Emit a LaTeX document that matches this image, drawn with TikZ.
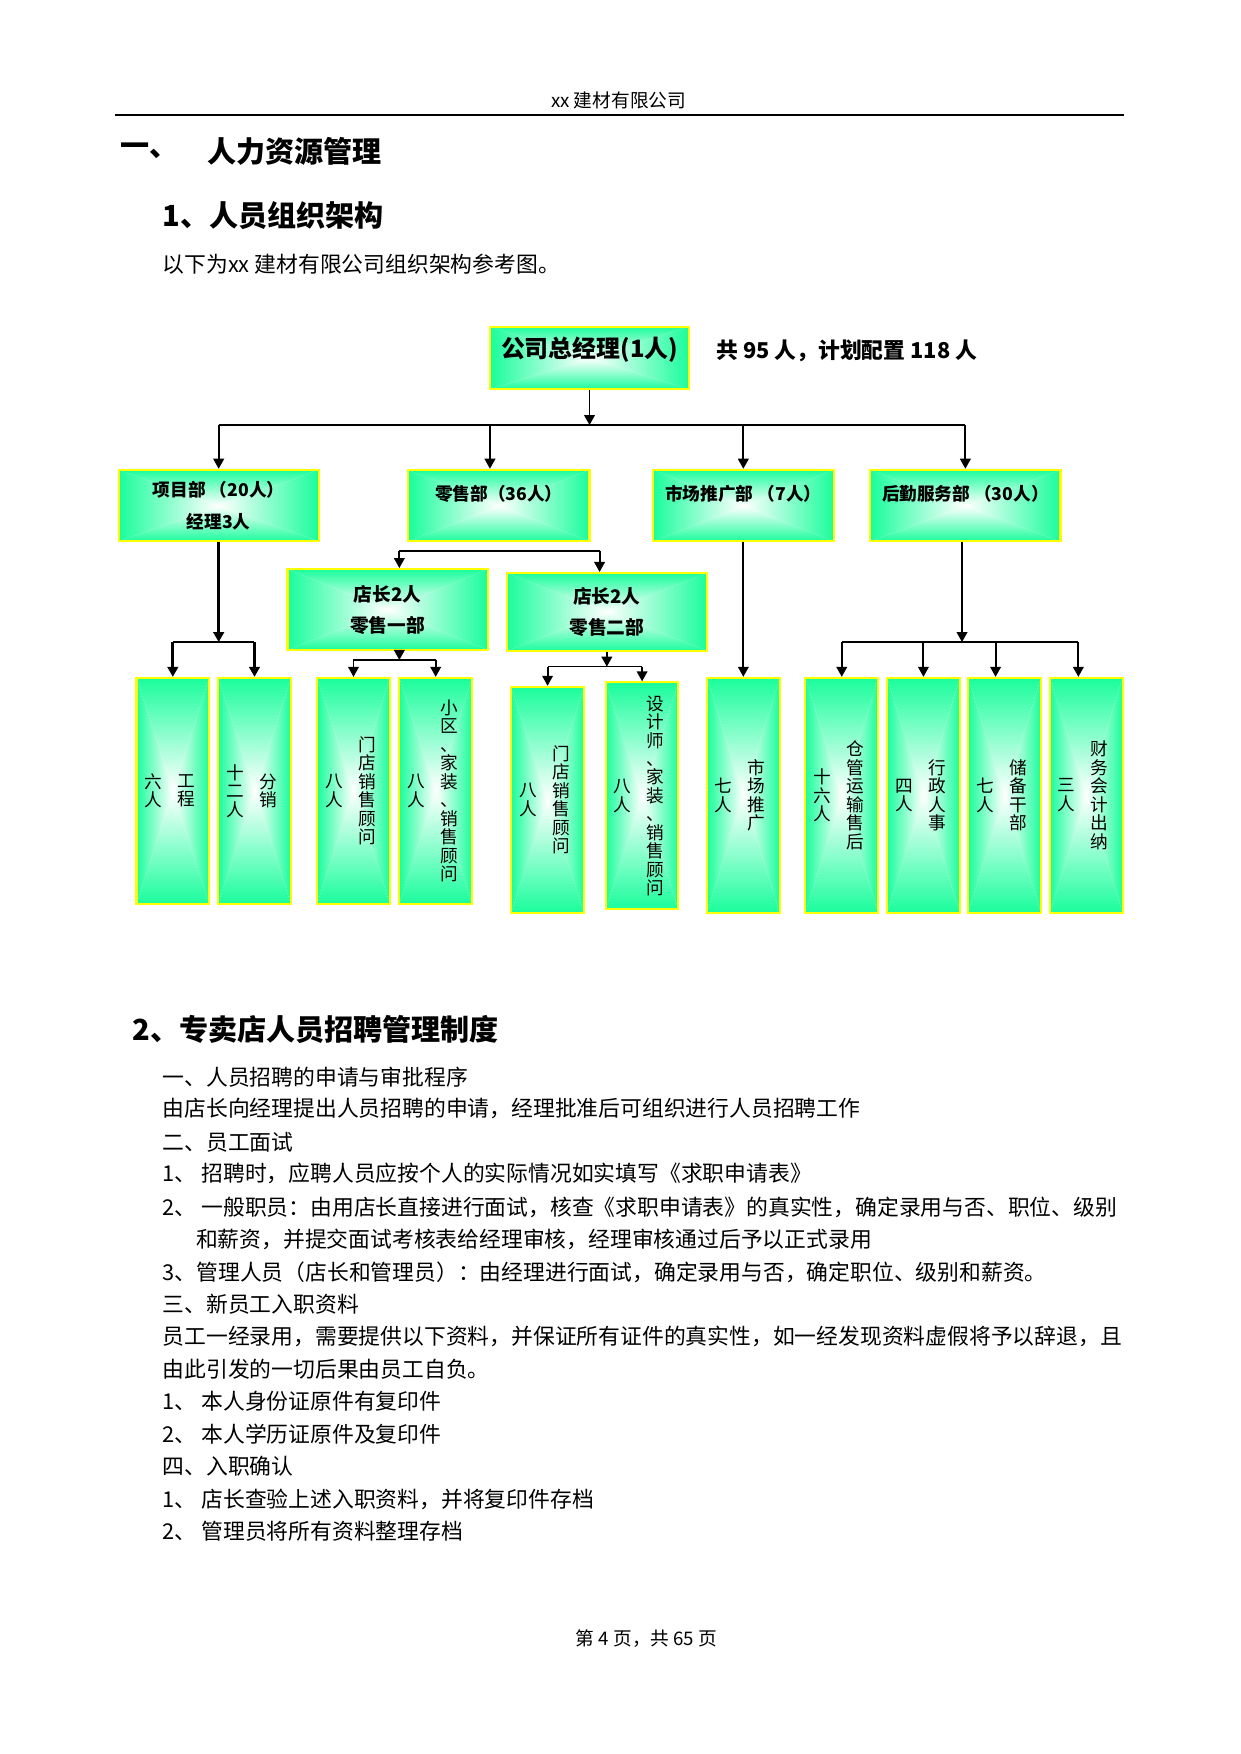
\documentclass[tikz,border=0pt]{standalone}
\usepackage{fontspec}
\setmainfont{Noto Sans CJK SC}
\usetikzlibrary{arrows.meta}
\definecolor{boxMint}{RGB}{26,253,156}
\definecolor{boxEdge}{RGB}{255,255,0}
\newcommand{\pxu}{0.18936mm}

\begin{document}
\begin{tikzpicture}[
  x=\pxu, y=-\pxu,
  shadebox/.style={draw=boxEdge, line width=1pt, inner sep=1pt,
    path picture={
      \path (path picture bounding box.south west) coordinate (sw)
            (path picture bounding box.north east) coordinate (ne)
            (path picture bounding box.center) coordinate (mid);
      \shade[top color=boxMint, bottom color=white] (sw |- ne) -- (ne) -- (mid) -- cycle;
      \shade[bottom color=boxMint, top color=white] (sw) -- (sw -| ne) -- (mid) -- cycle;
      \shade[left color=boxMint, right color=white] (sw) -- (sw |- ne) -- (mid) -- cycle;
      \shade[right color=boxMint, left color=white] (ne) -- (sw -| ne) -- (mid) -- cycle;
    }},
  gmbox/.style={shadebox, minimum width=178*\pxu, minimum height=56*\pxu,
    font=\fontsize{11.5pt}{14pt}\selectfont\bfseries, text height=3.5mm, text depth=3.5mm},
  dept/.style={shadebox, minimum width=#1*\pxu, minimum height=64*\pxu, align=center,
    font=\fontsize{8.5pt}{15.6pt}\selectfont\bfseries},
  oneline/.style={text height=2.6mm, text depth=4.5mm},
  shop/.style={shadebox, minimum width=179*\pxu, minimum height=#1*\pxu, align=center,
    font=\fontsize{9pt}{15pt}\selectfont\bfseries},
  tall/.style={shadebox, minimum width=65*\pxu},
  vcol/.style={align=center, inner sep=0pt, font=\fontsize{8.5pt}{8.9pt}\selectfont},
  flow/.style={-{Triangle[length=1.7mm,width=1.8mm]}, line width=0.9pt},
  bus/.style={line width=0.6pt},
  body/.style={anchor=west, inner sep=0pt, font=\fontsize{10.5pt}{12pt}\selectfont},
  head/.style={anchor=west, inner sep=0pt, font=\fontsize{14pt}{16pt}\selectfont\bfseries},
]
\fill[white] (0,0) rectangle (1109,1568);
\useasboundingbox (0,0) rectangle (1109,1568);

% one staff column: box, head count, post (vertical text)
\newcommand{\staffbox}[6]{%
  \node[tall, minimum height=#4*\pxu] (#1) at (#2,#3) {};
  \node[vcol] (#1n) at ({#2-17.5},#3) {#5};
  \node[vcol] (#1p) at ({#2+12},#3) {#6};
}

% ---------------- page head ----------------
\node[font=\fontsize{9pt}{11pt}\selectfont] (pghead) at (553,90) {xx 建材有限公司};
\draw[line width=1.2pt] (103,103) -- (1005,103);
\node[head] (h1a) at (107,135) {一、};
\node[head] (h1b) at (185,135) {人力资源管理};
\node[head] (h2) at (145,193) {1、人员组织架构};
\node[body] (intro) at (145,236) {以下为xx 建材有限公司组织架构参考图。};

% ---------------- chart ----------------
\node[gmbox] (gm) at (527,320) {公司总经理(1人)};
\node[anchor=west, inner sep=0pt, font=\fontsize{10.5pt}{12pt}\selectfont\bfseries]
  (total) at (640,314) {共 95 人，计划配置 118 人};

\node[dept=179] (xm) at (195.5,452) {项目部 （20人）\\经理3人};
\node[dept=162, oneline] (ls) at (446,452) {零售部（36人）};
\node[dept=162, oneline] (sc) at (664.5,452) {市场推广部 （7人）};
\node[dept=170, oneline] (hq) at (863,452) {后勤服务部 （30人）};

\node[shop=72.5] (r1) at (346.5,545) {店长2人\\零售一部};
\node[shop=69.5] (r2) at (542.5,547) {店长2人\\零售二部};

\staffbox{gc}{154.5}{707}{202}{六\\人}{工\\程}
\staffbox{fx}{227.5}{707}{202}{十\\二\\人}{分\\销}
\staffbox{md1}{316}{707}{202}{八\\人}{门\\店\\销\\售\\顾\\问}
\staffbox{jz}{389.5}{707}{202}{八\\人}{小\\区\\、\\家\\装\\、\\销\\售\\顾\\问}
\staffbox{md2}{489.5}{715}{202}{八\\人}{门\\店\\销\\售\\顾\\问}
\staffbox{sj}{574}{711.5}{203}{八\\人}{设\\计\\师\\、\\家\\装\\、\\销\\售\\顾\\问}
\staffbox{tg}{664.5}{711}{210}{七\\人}{市\\场\\推\\广}
\staffbox{cg}{752.5}{711}{210}{十\\六\\人}{仓\\管\\运\\输\\售\\后}
\staffbox{xz}{825.5}{711}{210}{四\\人}{行\\政\\人\\事}
\staffbox{cb}{898}{711}{210}{七\\人}{储\\备\\干\\部}
\staffbox{cw}{971}{711}{210}{三\\人}{财\\务\\会\\计\\出\\纳}

% top level
\coordinate (topbus) at (527,380);
\coordinate (lsin) at (438,380);
\draw[flow] (gm) -- (topbus);
\draw[bus] (topbus -| xm) -- (topbus -| hq);
\draw[flow] (topbus -| xm) -- (xm);
\draw[flow] (lsin) -- (lsin |- ls.north);
\draw[flow] (topbus -| sc) -- (sc);
\draw[flow] (topbus -| hq) -- (hq);

% project dept
\coordinate (xmbus) at (195.5,574);
\draw[flow, line width=1.3pt] (xm) -- (xmbus);
\draw[bus] (xmbus -| gc) -- (xmbus -| fx);
\draw[flow, line width=1.3pt] (xmbus -| gc) -- (gc);
\draw[flow, line width=1.3pt] (xmbus -| fx) -- (fx);

% retail dept
\coordinate (lsL) at (357,492.5);
\coordinate (lsR) at (536,492.5);
\draw[line width=1.1pt] (lsL) -- (lsR);
\draw[flow] (lsL) -- (lsL |- r1.north);
\draw[flow] (lsR) -- (lsR |- r2.north);

\coordinate (r1bus) at (357,590);
\draw[flow] (r1bus |- r1.south) -- (r1bus);
\draw[bus] (r1bus -| md1) -- (r1bus -| jz);
\draw[flow] (r1bus -| md1) -- (md1);
\draw[flow] (r1bus -| jz) -- (jz);

\coordinate (r2bus) at (542.5,596);
\draw[flow] (r2) -- (r2bus);
\draw[bus] (r2bus -| md2) -- (r2bus -| sj);
\draw[flow] (r2bus -| md2) -- (md2);
\draw[flow] (r2bus -| sj) -- (sj);

% marketing
\draw[flow] (sc) -- (sc |- tg.north);

% logistics
\coordinate (hqbus) at (860,574);
\coordinate (cbin) at (890,574);
\coordinate (cwin) at (964,574);
\draw[flow] (hqbus |- hq.south) -- (hqbus);
\draw[bus] (hqbus -| cg) -- (cwin);
\draw[flow] (hqbus -| cg) -- (cg);
\draw[flow] (hqbus -| xz) -- (xz);
\draw[flow] (cbin) -- (cbin |- cb.north);
\draw[flow] (cwin) -- (cwin |- cw.north);

% ---------------- recruiting rules ----------------
\node[head] (h3) at (118,920) {2、专卖店人员招聘管理制度};
\node[body] (l1) at (145,963) {一、人员招聘的申请与审批程序};
\node[body] (l2) at (145,991) {由店长向经理提出人员招聘的申请，经理批准后可组织进行人员招聘工作};
\node[body] (l3) at (145,1021) {二、员工面试};
\node[body] (l4) at (145,1049) {1、 招聘时，应聘人员应按个人的实际情况如实填写《求职申请表》};
\node[body] (l5) at (145,1079) {2、 一般职员：由用店长直接进行面试，核查《求职申请表》的真实性，确定录用与否、职位、级别};
\node[body] (l6) at (175,1108) {和薪资，并提交面试考核表给经理审核，经理审核通过后予以正式录用};
\node[body] (l7) at (145,1137) {3、管理人员（店长和管理员）：由经理进行面试，确定录用与否，确定职位、级别和薪资。};
\node[body] (l8) at (145,1166) {三、新员工入职资料};
\node[body] (l9) at (145,1195) {员工一经录用，需要提供以下资料，并保证所有证件的真实性，如一经发现资料虚假将予以辞退，且};
\node[body] (l10) at (145,1224) {由此引发的一切后果由员工自负。};
\node[body] (l11) at (145,1253) {1、 本人身份证原件有复印件};
\node[body] (l12) at (145,1282) {2、 本人学历证原件及复印件};
\node[body] (l13) at (145,1311) {四、入职确认};
\node[body] (l14) at (145,1340) {1、 店长查验上述入职资料，并将复印件存档};
\node[body] (l15) at (145,1369) {2、 管理员将所有资料整理存档};

\node[font=\fontsize{9pt}{11pt}\selectfont] (pgfoot) at (578,1465) {第 4 页，共 65 页};
\end{tikzpicture}
\end{document}
